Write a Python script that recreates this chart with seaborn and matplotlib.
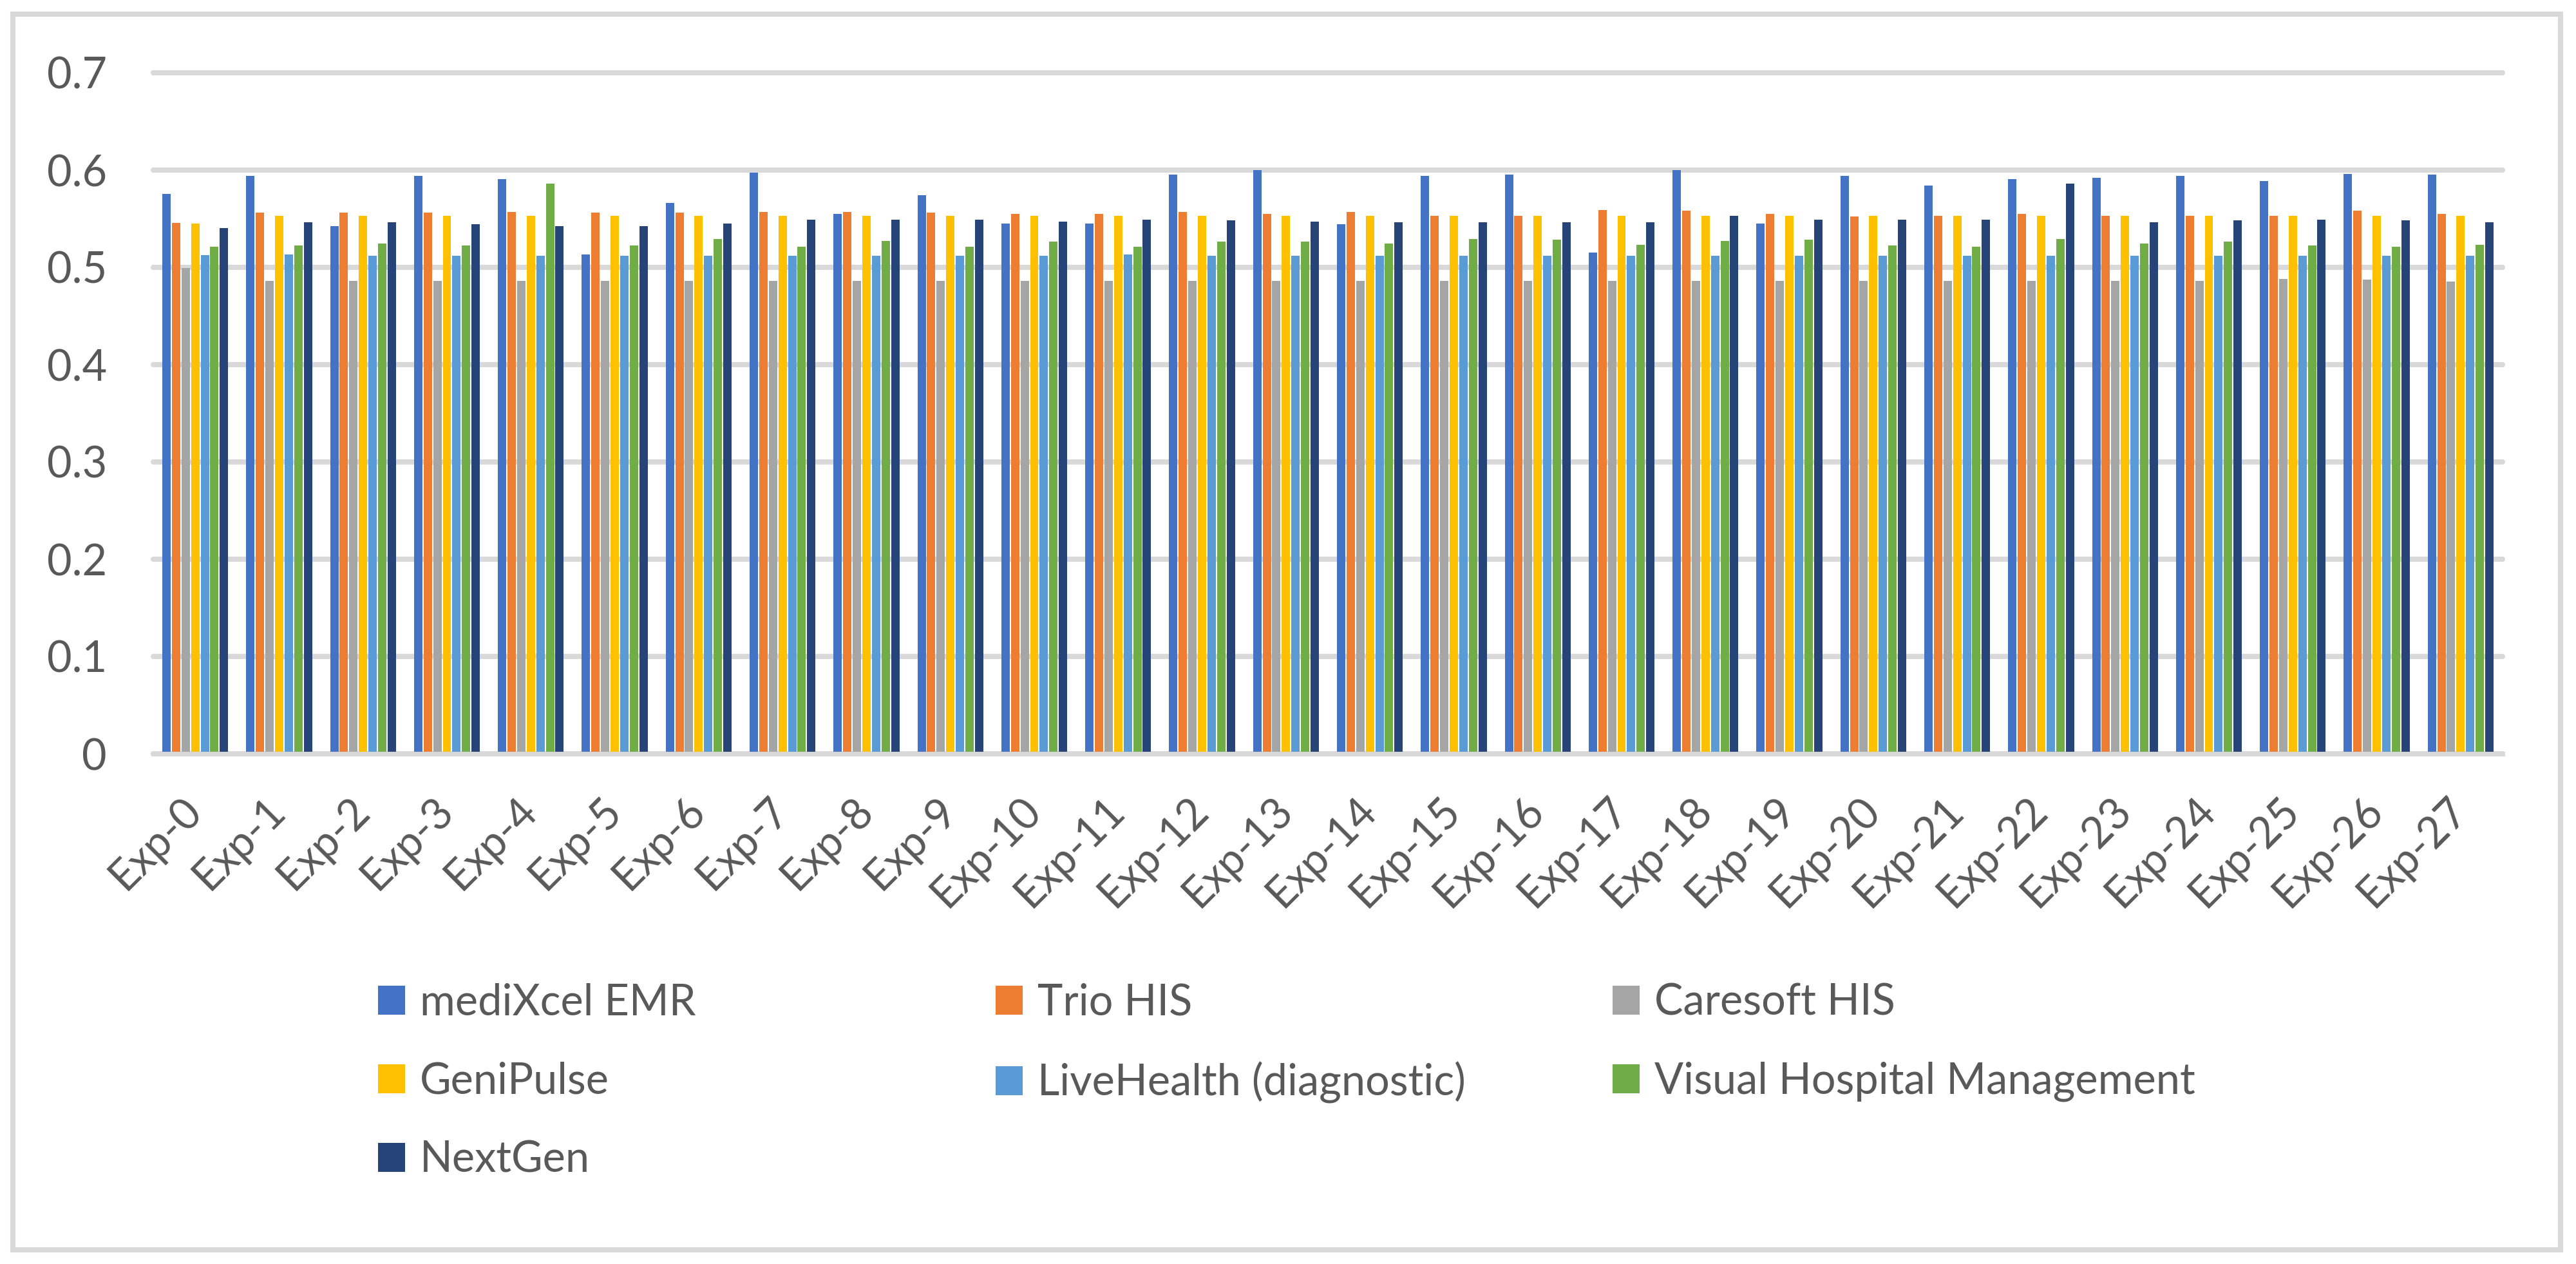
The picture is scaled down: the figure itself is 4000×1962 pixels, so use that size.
import numpy as np
import pandas as pd
import seaborn as sns
import matplotlib.pyplot as plt
from matplotlib.patches import Patch, Rectangle

# ---------------- data ----------------
experiments = [f"Exp-{i}" for i in range(28)]
systems = ["mediXcel EMR", "Trio HIS", "Caresoft HIS", "GeniPulse",
           "LiveHealth (diagnostic)", "Visual Hospital Management", "NextGen"]
colors = ["#4472C4", "#ED7D31", "#A5A5A5", "#FFC000", "#5B9BD5", "#70AD47", "#264478"]

medixcel = [0.5755, 0.594, 0.5424, 0.594, 0.5907, 0.5132, 0.5662, 0.5974, 0.555, 0.5742,
            0.545, 0.545, 0.5954, 0.600, 0.5444, 0.594, 0.5954, 0.5152, 0.600, 0.545,
            0.594, 0.5841, 0.5907, 0.592, 0.594, 0.5887, 0.596, 0.5954]
trio = [0.5457, 0.5563, 0.5563, 0.5563, 0.557, 0.5563, 0.5563, 0.557, 0.557, 0.5563,
        0.555, 0.555, 0.557, 0.555, 0.557, 0.553, 0.553, 0.5589, 0.5583, 0.555,
        0.5523, 0.553, 0.555, 0.553, 0.553, 0.553, 0.5583, 0.555]
caresoft = [0.4993, 0.486, 0.486, 0.486, 0.486, 0.486, 0.486, 0.486, 0.486, 0.486,
            0.486, 0.486, 0.486, 0.486, 0.486, 0.486, 0.486, 0.486, 0.486, 0.486,
            0.486, 0.486, 0.486, 0.486, 0.486, 0.488, 0.4874, 0.4854]
genipulse = [0.545, 0.553, 0.553, 0.553, 0.553, 0.553, 0.553, 0.553, 0.553, 0.553,
             0.553, 0.553, 0.553, 0.553, 0.553, 0.553, 0.553, 0.553, 0.553, 0.553,
             0.553, 0.553, 0.553, 0.553, 0.553, 0.553, 0.553, 0.553]
livehealth = [0.5126, 0.5132, 0.5119, 0.5119, 0.5119, 0.5119, 0.5119, 0.5119, 0.5119, 0.5119,
              0.5119, 0.5132, 0.5119, 0.5119, 0.5119, 0.5119, 0.5119, 0.5119, 0.5119, 0.5119,
              0.5119, 0.5119, 0.5119, 0.5119, 0.5119, 0.5119, 0.5119, 0.5119]
visual = [0.5212, 0.5225, 0.5245, 0.5225, 0.5861, 0.5225, 0.5291, 0.5212, 0.5272, 0.5212,
          0.5265, 0.5212, 0.5265, 0.5265, 0.5245, 0.5291, 0.5285, 0.5232, 0.5272, 0.5285,
          0.5225, 0.5212, 0.5291, 0.5245, 0.5265, 0.5225, 0.5212, 0.5232]
nextgen = [0.5404, 0.5464, 0.5464, 0.5444, 0.5424, 0.5424, 0.545, 0.549, 0.549, 0.549,
           0.547, 0.549, 0.5483, 0.547, 0.5464, 0.5464, 0.5464, 0.5464, 0.553, 0.549,
           0.549, 0.549, 0.5861, 0.5464, 0.5483, 0.549, 0.5483, 0.5464]

yticks = [0, 0.1, 0.2, 0.3, 0.4, 0.5, 0.6, 0.7]
ytick_labels = ["0", "0.1", "0.2", "0.3", "0.4", "0.5", "0.6", "0.7"]

series = [medixcel, trio, caresoft, genipulse, livehealth, visual, nextgen]
df = pd.DataFrame({
    "experiment": np.tile(experiments, len(systems)),
    "system": np.repeat(systems, len(experiments)),
    "value": np.concatenate(series),
})

# ---------------- figure ----------------
sns.set_theme(style="white")
plt.rcParams["font.family"] = ["Lato", "DejaVu Sans"]
TEXT = "#595959"
GRID = "#D9D9D9"
FS = 24

W, H = 4000, 1962
fig = plt.figure(figsize=(20, 9.81), dpi=200)
fig.patch.set_facecolor("white")

left, right, top, bottom = 238, 3886, 113, 1170
ax = fig.add_axes([left / W, 1 - bottom / H, (right - left) / W, (bottom - top) / H])

sns.barplot(data=df, x="experiment", y="value", hue="system", hue_order=systems,
            palette=colors, saturation=1, width=0.8, gap=0.13, errorbar=None,
            linewidth=0, edgecolor="none", legend=False, ax=ax)

ax.set_xlim(-0.5, len(experiments) - 0.5)
ax.set_ylim(0, 0.7)
ax.set_yticks(yticks, labels=ytick_labels)
ax.set_xlabel("")
ax.set_ylabel("")
ax.set_axisbelow(True)
ax.grid(axis="y", color=GRID, lw=2.9)
ax.grid(axis="x", visible=False)
for gl in ax.get_ygridlines():
    gl.set_clip_on(False)
for s in ["top", "right", "left"]:
    ax.spines[s].set_visible(False)
ax.spines["bottom"].set_color(GRID)
ax.spines["bottom"].set_linewidth(2.6)

ax.tick_params(axis="both", length=0, labelsize=FS, labelcolor=TEXT)
ax.tick_params(axis="y", pad=26)
ax.tick_params(axis="x", pad=28)
for lbl in ax.get_xticklabels():
    lbl.set_rotation(45)
    lbl.set_ha("right")
    lbl.set_va("center")
    lbl.set_rotation_mode("anchor")

# ---------------- legend (3 columns, row-major like the original) ----------------
handles = [Patch(facecolor=c, edgecolor="none", label=s) for s, c in zip(systems, colors)]
col_groups = [[0, 3, 6], [1, 4], [2, 5]]
col_x = [587, 1546, 2504]
leg_top = 1526
for xpos, idxs in zip(col_x, col_groups):
    fig.legend(handles=[handles[i] for i in idxs], loc="upper left",
               bbox_to_anchor=(xpos / W, 1 - leg_top / H),
               frameon=False, fontsize=FS, labelcolor=TEXT,
               handlelength=0.63, handleheight=0.65, handletextpad=0.34,
               labelspacing=0.9, borderpad=0, borderaxespad=0)

# ---------------- outer frame ----------------
fig.add_artist(Rectangle((20 / W, 1 - 1940 / H), (3976 - 20) / W, (1940 - 22) / H,
                         transform=fig.transFigure, fill=False,
                         edgecolor=GRID, lw=2.9))

fig.savefig("out.png", dpi=200, facecolor="white")
